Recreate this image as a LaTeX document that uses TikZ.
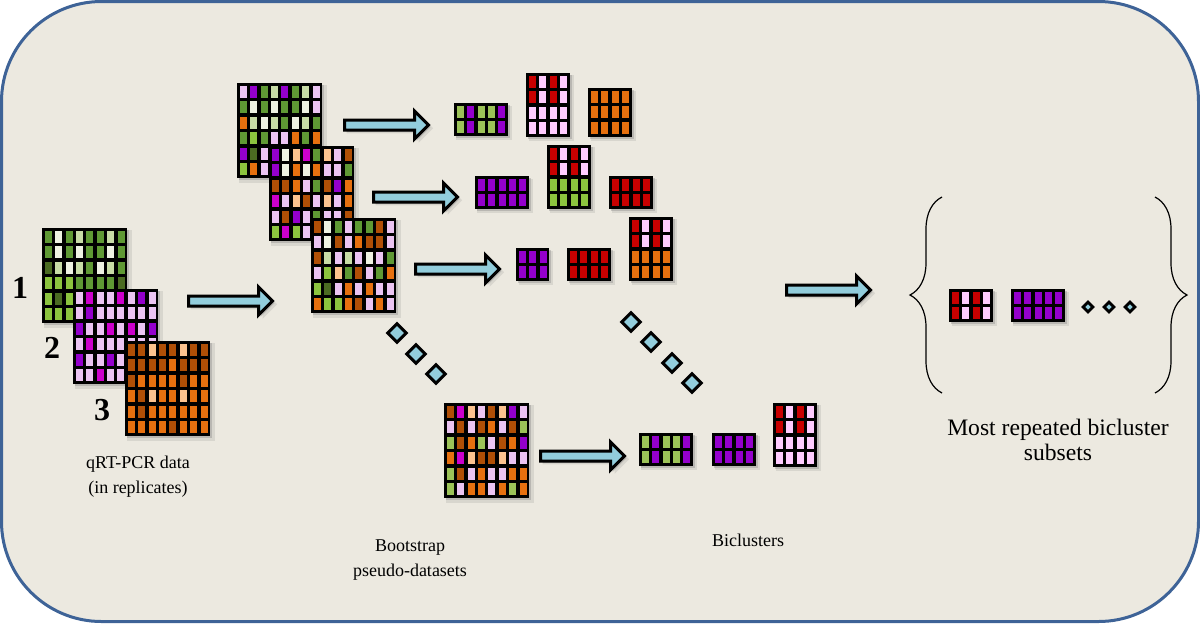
\documentclass[tikz,border=0pt]{standalone}
\usepackage{fontspec}
\setmainfont{Liberation Serif}
\usetikzlibrary{shapes.arrows,shadows,decorations.pathreplacing}

\definecolor{frameblue}{HTML}{3E6397}
\definecolor{panel}{HTML}{ECE9E0}
\definecolor{arrowblue}{HTML}{92CDDC}
\definecolor{gD}{HTML}{4B6B22}
\definecolor{gM}{HTML}{5F9934}
\definecolor{gL}{HTML}{8CC43E}
\definecolor{gP}{HTML}{C8DCA6}
\definecolor{gW}{HTML}{EEF2E2}
\definecolor{gB}{HTML}{9CC358}
\definecolor{pk}{HTML}{EBC4F2}
\definecolor{pl}{HTML}{FFCCFF}
\definecolor{mg}{HTML}{CC00CC}
\definecolor{pu}{HTML}{9400CC}
\definecolor{oD}{HTML}{B04F06}
\definecolor{oM}{HTML}{E6700F}
\definecolor{oL}{HTML}{FCC38F}
\definecolor{rd}{HTML}{C80000}

\def\cellw{10.4}
\def\cellh{15.5}

\tikzset{
  soft shadow/.style={
    drop shadow={shadow xshift=1.6pt,shadow yshift=-1.6pt,shadow scale=1.03,opacity=0.18},
    drop shadow={shadow xshift=1pt,shadow yshift=-1pt,opacity=0.35}},
  heatbox/.style={rectangle,fill=black,anchor=north west,inner sep=0pt,outer sep=0pt,soft shadow},
  flow/.style={single arrow,draw=black,fill=arrowblue,line width=1.5pt,inner sep=1.75pt,
    single arrow head extend=4.5pt,minimum height=42pt,soft shadow},
  dot/.style={rectangle,rotate=45,draw=black,fill=arrowblue,line width=1.5pt,
    minimum size=6.5pt,inner sep=0pt},
  smalldot/.style={dot,line width=1.4pt,minimum size=3.4pt},
  caption/.style={align=center,font=\fontsize{9}{12.5}\selectfont},
  replica/.style={font=\fontsize{16}{16}\bfseries},
  bracket/.style={decorate,decoration={brace,amplitude=16pt},line width=0.6pt}
}

% #1 name, #2 top left, #3 columns, #4 rows, #5 cell colours row by row
\newcommand{\heatmap}[5]{%
  \node[heatbox,minimum width={(#3*\cellw+2)*0.5pt},minimum height={(#4*\cellh+2)*0.5pt}] (#1) at #2 {};
  \begin{scope}[shift={(#1.north west)}]
    \foreach \cellrow [count=\r from 0] in {#5}
      \foreach \cellcol [count=\k from 0] in \cellrow
        \fill[\cellcol] ({2.7+\k*\cellw},{2.7+\r*\cellh}) rectangle ++({\cellw-3.4},{\cellh-3.4});
  \end{scope}
}

\begin{document}
\begin{tikzpicture}[x=0.5pt,y=-0.5pt]
    \useasboundingbox (0,0) rectangle (1200,623);
    \draw[frameblue,fill=panel,line width=1.5pt,rounded corners=50pt] (1.5,1.5) rectangle (1198.5,621.5);

    % replicates
    \heatmap{rep1}{(42,228)}{8}{6}{{gM,gW,gM,gP,gM,gM,gP,gM},{gM,gW,gM,gW,gM,gM,gW,gM},
      {gD,gP,gW,gP,gM,gW,gP,gM},{gL,gL,gL,gM,gM,gM,gM,gD},{gL,gD,gL,gM,gM,gM,gM,gM},
      {gL,gL,gL,gL,gM,gM,gM,gM}}
    \heatmap{rep2}{(73,289)}{8}{6}{{pk,mg,pk,pk,mg,pk,pu,pk},{pk,pu,pk,pk,pk,pk,pk,pk},
      {pu,pk,pk,mg,pk,mg,pk,pu},{pk,mg,pk,pk,pk,pk,pk,pk},{pu,pk,pk,pu,pk,pk,pk,pk},
      {pk,pk,mg,pk,pk,pk,pk,pk}}
    \heatmap{rep3}{(125,341)}{8}{6}{{oD,oD,oL,oD,oD,oL,oD,oD},{oD,oD,oD,oD,oM,oD,oD,oD},
      {oD,oM,oM,oM,oM,oD,oM,oM},{oM,oD,oL,oM,oM,oL,oM,oM},{oM,oD,oM,oM,oM,oM,oM,oM},
      {oM,oM,oM,oM,oD,oM,oM,oM}}
    \node[replica] (num1) at (20,288) {1};
    \node[replica] (num2) at (52,348) {2};
    \node[replica] (num3) at (102,410) {3};

    % bootstrap pseudo-datasets
    \heatmap{boot1}{(237,83)}{8}{6}{{pk,pu,gM,gP,pu,gM,gP,pk},{gM,gW,gM,gW,gM,gM,gW,pk},
      {oM,gP,gW,gP,gM,gW,gP,gM},{gM,gL,gM,pk,pk,oM,gM,oM},{pu,gD,pk,pu,gW,oL,mg,gM},
      {gL,oM,pk,pu,gW,oM,gW,oM}}
    \heatmap{boot2}{(269,146)}{8}{6}{{pu,gW,oL,mg,gM,oL,pk,oD},{pu,gW,oM,gW,oM,pk,pk,gM},
      {oD,oD,oM,pk,gM,oD,pu,oM},{mg,pk,oL,oD,pk,oL,pk,oM},{pk,oD,pu,pk,gM,pk,pk,oD},
      {gL,mg,gL,pk,oD,gM,pk,gM}}
    \heatmap{boot3}{(311,218)}{8}{6}{{oD,gW,gM,pk,gM,gM,oD,pk},{pk,gW,oD,pk,oM,oD,oD,pk},
      {oD,gP,pk,gP,pk,gW,pk,gM},{pk,gL,oL,gM,oD,pk,gM,oM},{gL,gD,pk,oM,pk,oM,pk,pk},
      {oM,gL,gL,oM,oD,pk,oM,pk}}
    \heatmap{bootn}{(444,403)}{8}{6}{{oD,mg,oL,pk,oD,oL,pu,pk},{pk,oD,pk,oD,oM,pk,oD,gB},
      {gB,oD,oM,gB,pk,oD,oM,pu},{oM,mg,oL,oD,oD,oL,pk,pk},{gB,oD,pk,oM,pk,pk,oM,oM},
      {gB,pk,oM,oM,pk,oM,gB,oM}}

    % biclusters
    \heatmap{bic1a}{(454,103)}{5}{2}{{gB,pu,gB,gB,pu},{gB,pu,gB,gB,pu}}
    \heatmap{bic1b}{(526,73)}{4}{4}{{rd,pl,rd,pl},{rd,pl,rd,pl},{pl,pl,pl,pl},{pl,pl,pl,pl}}
    \heatmap{bic1c}{(588,88)}{4}{3}{{oM,oM,oM,oM},{oM,oM,oM,oM},{oM,oM,oM,oM}}
    \heatmap{bic2a}{(475,176)}{5}{2}{{pu,pu,pu,pu,pu},{pu,pu,pu,pu,pu}}
    \heatmap{bic2b}{(547,145)}{4}{4}{{rd,pl,rd,pl},{rd,pl,rd,pl},{gL,gL,gL,gL},{gL,gL,gL,gL}}
    \heatmap{bic2c}{(609,176)}{4}{2}{{rd,rd,rd,rd},{rd,rd,rd,rd}}
    \heatmap{bic3a}{(516,248)}{3}{2}{{pu,pu,pu},{pu,pu,pu}}
    \heatmap{bic3b}{(567,248)}{4}{2}{{rd,rd,rd,rd},{rd,rd,rd,rd}}
    \heatmap{bic3c}{(629,217)}{4}{4}{{rd,pl,rd,pl},{rd,pl,rd,pl},{oM,oM,oM,oM},{oM,oM,oM,oM}}
    \heatmap{bicna}{(639,433)}{5}{2}{{gB,pu,gB,gB,pu},{gB,pu,gB,gB,pu}}
    \heatmap{bicnb}{(712,433)}{4}{2}{{pu,pu,pu,pu},{pu,pu,pu,pu}}
    \heatmap{bicnc}{(773,403)}{4}{4}{{rd,pl,rd,pl},{rd,pl,rd,pl},{pl,pl,pl,pl},{pl,pl,pl,pl}}

    % most repeated subsets
    \heatmap{res1}{(949,289)}{4}{2}{{rd,pl,rd,pl},{rd,pl,rd,pl}}
    \heatmap{res2}{(1011,289)}{5}{2}{{pu,pu,pu,pu,pu},{pu,pu,pu,pu,pu}}
    \node[smalldot] (more1) at (1088,307) {};
    \node[smalldot] (more2) at (1109,307) {};
    \node[smalldot] (more3) at (1130,307) {};
    \draw[bracket] (942,393) -- (942,197);
    \draw[bracket] (1155,197) -- (1155,393);

    % arrows
    \node[flow] (arr0) at (228,301) {};
    \node[flow] (arr1) at (384,125) {};
    \node[flow] (arr2) at (413,197) {};
    \node[flow] (arr3) at (455,269) {};
    \node[flow] (arrn) at (580,456) {};
    \node[flow] (arrr) at (826,290) {};

    % dots
    \node[dot] (skip1) at (397,333) {};
    \node[dot] (skip2) at (416,354) {};
    \node[dot] (skip3) at (436,374) {};
    \node[dot] (skip4) at (631,322) {};
    \node[dot] (skip5) at (651,342) {};
    \node[dot] (skip6) at (672,363) {};
    \node[dot] (skip7) at (692,383) {};

    % captions
    \node[caption] (cdata) at (138,477) {qRT-PCR data\\(in replicates)};
    \node[caption] (cboot) at (410,560) {Bootstrap\\pseudo-datasets};
    \node[caption] (cbic) at (748,540) {Biclusters};
    \node[caption,font=\fontsize{11.8}{12.5}\selectfont] (cmost) at (1058,440) {Most repeated bicluster\\subsets};
\end{tikzpicture}
\end{document}
